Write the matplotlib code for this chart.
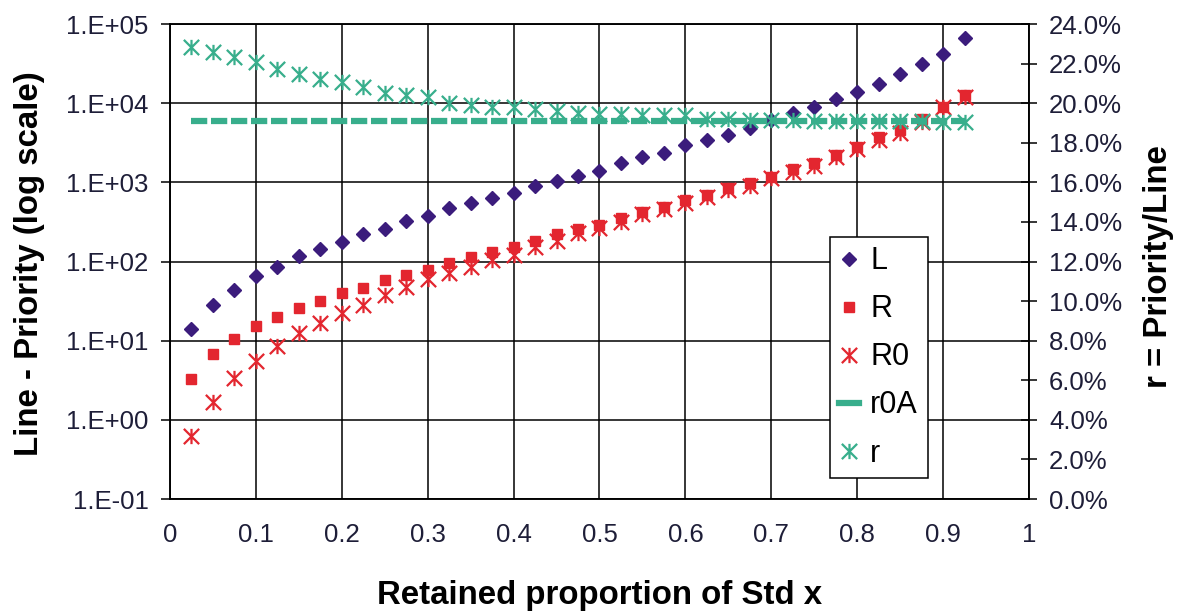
import numpy as np
import matplotlib
matplotlib.use("Agg")
import matplotlib.pyplot as plt
from matplotlib.path import Path
from matplotlib.lines import Line2D
from matplotlib.ticker import FixedLocator, NullLocator, FuncFormatter

plt.rcParams['font.family'] = ['Liberation Sans', 'DejaVu Sans']

# retained proportion of Std x
x = [0.025, 0.05, 0.075, 0.1, 0.125, 0.15, 0.175, 0.2, 0.225, 0.25,
     0.275, 0.3, 0.325, 0.35, 0.375, 0.4, 0.425, 0.45, 0.475, 0.5,
     0.525, 0.55, 0.575, 0.6, 0.625, 0.65, 0.675, 0.7, 0.725, 0.75,
     0.775, 0.8, 0.825, 0.85, 0.875, 0.9, 0.925]

# left axis (log scale)
L = [14, 28, 44, 65, 86, 117, 144, 178, 221, 260,
     326, 377, 471, 545, 631, 741, 906, 1046, 1216, 1406,
     1777, 2075, 2371, 2966, 3430, 3980, 4910, 6140, 7450, 9030,
     11200, 13960, 17300, 23400, 31300, 41800, 66000]
R = [3.27, 6.8, 10.5, 15.4, 20.2, 25.7, 32, 40.5, 46, 58.6,
     67.8, 78, 95, 113, 130, 151, 184, 223, 256, 290,
     352, 427, 493, 600, 693, 841, 977, 1181, 1462, 1741,
     2217, 2826, 3710, 4590, 6260, 9030, 12700]
R0 = [0.62, 1.70, 3.36, 5.6, 8.6, 12.6, 16.9, 22.2, 28.3, 37.9,
      48.2, 59.7, 71, 86, 105, 121, 154, 182, 227, 263,
      319, 399, 457, 554, 661, 802, 901, 1127, 1365, 1625,
      2113, 2618, 3430, 4246, 5840, 9030, 12100]

# right axis (percent)
r0A = [19.1] * 37
r = [22.86, 22.6, 22.35, 22.1, 21.73, 21.48, 21.21, 21.09, 20.8, 20.53,
     20.41, 20.33, 20.03, 19.91, 19.82, 19.82, 19.69, 19.62, 19.52, 19.47,
     19.45, 19.4, 19.4, 19.38, 19.2, 19.18, 19.16, 19.15, 19.13, 19.12,
     19.1, 19.1, 19.1, 19.08, 19.08, 19.06, 19.05]

xticks = [0, 0.1, 0.2, 0.3, 0.4, 0.5, 0.6, 0.7, 0.8, 0.9, 1]
xticklabels = ["0", "0.1", "0.2", "0.3", "0.4", "0.5", "0.6", "0.7", "0.8", "0.9", "1"]
left_ticks = [0.1, 1, 10, 100, 1000, 10000, 100000]
right_ticks = [0, 2, 4, 6, 8, 10, 12, 14, 16, 18, 20, 22, 24]

c_L = '#3b1c7c'
c_R = '#e3262f'
c_G = '#38ae8c'
tick_col = '#1e1e38'

# excel-like star: vertical bar plus an X
star = Path([(0, -1), (0, 1), (-1, -1), (1, 1), (-1, 1), (1, -1)],
            [Path.MOVETO, Path.LINETO, Path.MOVETO, Path.LINETO, Path.MOVETO, Path.LINETO])

fig = plt.figure(figsize=(11.78, 6.11), dpi=100)
ax = fig.add_axes([0.1443, 0.1833, 0.7292, 0.7774])

ax.set_yscale('log')
ax.set_xlim(0, 1)
ax.set_ylim(0.1, 1e5)

pL, = ax.plot(x, L, ls='none', marker='D', ms=7, color=c_L, mec=c_L, label='L', zorder=3)
pR, = ax.plot(x, R, ls='none', marker='s', ms=7.5, color=c_R, mec=c_R, label='R', zorder=3)
pR0, = ax.plot(x, R0, ls='none', marker=star, ms=11, mew=1.6, color=c_R, label='R0', zorder=3)

ax.xaxis.set_major_locator(FixedLocator(xticks))
ax.set_xticklabels(xticklabels)
ax.yaxis.set_major_locator(FixedLocator(left_ticks))
ax.yaxis.set_minor_locator(NullLocator())
ax.yaxis.set_major_formatter(FuncFormatter(lambda v, p: "1.E{:+03d}".format(int(round(np.log10(v))))))
ax.grid(True, color='black', lw=1.1)
ax.set_axisbelow(True)
ax.tick_params(axis='y', direction='out', length=6.5, width=1.1, pad=9,
               labelsize=18.5, labelcolor=tick_col)
ax.tick_params(axis='x', length=0, pad=17, labelsize=18.5, labelcolor=tick_col)
for s in ax.spines.values():
    s.set_color('black')
    s.set_linewidth(1.1)

ax2 = ax.twinx()
ax2.set_ylim(0, 24)
ax2.yaxis.set_major_locator(FixedLocator(right_ticks))
ax2.yaxis.set_major_formatter(FuncFormatter(lambda v, p: "{:.1f}%".format(v)))
ax2.tick_params(axis='y', direction='inout', length=11, width=1.1, pad=9,
                labelsize=18.5, labelcolor=tick_col)
pA, = ax2.plot(x, r0A, color=c_G, lw=4.5, ls=(0, (2.6, 0.6)), label='r0A', zorder=2)
pr, = ax2.plot(x, r, ls='none', marker=star, ms=11, mew=1.6, color=c_G, label='r', zorder=3)
for s in ax2.spines.values():
    s.set_color('black')
    s.set_linewidth(1.1)

ax.set_xlabel("Retained proportion of Std x", fontsize=23.8, fontweight='bold')
ax.xaxis.set_label_coords(0.5, -0.17)
ax.set_ylabel("Line - Priority (log scale)", fontsize=23.8, fontweight='bold')
ax.yaxis.set_label_coords(-0.146, 0.495)
ax2.set_ylabel("r = Priority/Line", fontsize=23.8, fontweight='bold')
ax2.yaxis.set_label_coords(1.133, 0.49)

proxyA = Line2D([], [], color=c_G, lw=4.5)
leg = ax2.legend([pL, pR, pR0, proxyA, pr], ['L', 'R', 'R0', 'r0A', 'r'],
                 loc='lower left', bbox_to_anchor=(0.7046, 0.2177),
                 bbox_transform=fig.transFigure, borderaxespad=0,
                 fontsize=22, numpoints=1, handlelength=0.65, handletextpad=0.36,
                 labelspacing=0.59, borderpad=0.31, fancybox=False,
                 framealpha=1, edgecolor='black')
leg.get_frame().set_linewidth(1.1)

fig.savefig("out.png", dpi=100)
